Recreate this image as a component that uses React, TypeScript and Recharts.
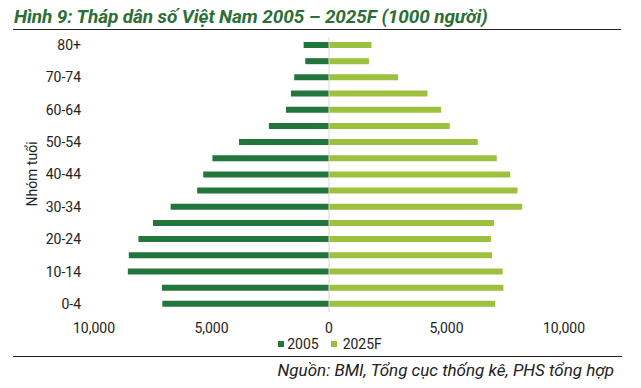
import { Bar, BarChart, ReferenceLine, XAxis, YAxis } from 'recharts'

const ageGroups = [
  '80+', '75-79', '70-74', '65-69', '60-64', '55-59', '50-54', '45-49', '40-44',
  '35-39', '30-34', '25-29', '20-24', '15-19', '10-14', '5-9', '0-4',
]
const pop2005 = [
  1080, 1010, 1480, 1620, 1830, 2560, 3830, 4960, 5350,
  5610, 6740, 7490, 8110, 8520, 8560, 7110, 7090,
]
const pop2025 = [
  1810, 1700, 2940, 4190, 4770, 5140, 6330, 7140, 7710,
  8020, 8220, 7020, 6890, 6940, 7390, 7420, 7070,
]
const xTicks = [-10000, -5000, 0, 5000, 10000]

const DARK = '#23763b'
const LIGHT = '#9dc13f'

const data = ageGroups.map((age, i) => ({
  age,
  y2005: -pop2005[i],
  y2025: pop2025[i],
}))

const fmt = (v: number) => Math.abs(v).toLocaleString('en-US')

export default function App() {
  return (
    <div
      style={{
        position: 'absolute',
        left: 0,
        top: 0,
        width: 641,
        height: 388,
        background: '#fff',
        fontFamily: 'Roboto, sans-serif',
        color: '#222',
      }}
    >
      <div
        style={{
          position: 'absolute',
          left: 14,
          top: 5,
          fontSize: 19,
          fontWeight: 700,
          fontStyle: 'italic',
          color: '#2b6e36',
          letterSpacing: -0.1,
          whiteSpace: 'nowrap',
        }}
      >
        Hình 9: Tháp dân số Việt Nam 2005 – 2025F (1000 người)
      </div>
      <div style={{ position: 'absolute', left: 13, top: 29, width: 608, height: 1, background: '#222' }} />

      <div style={{ position: 'absolute', left: 0, top: 0 }}>
        <BarChart
          width={641}
          height={340}
          data={data}
          layout="vertical"
          stackOffset="sign"
          margin={{ top: 37, right: 77, bottom: 0, left: 0 }}
        >
          <XAxis
            type="number"
            domain={[-10000, 10000]}
            ticks={xTicks}
            tickFormatter={fmt}
            height={28}
            axisLine={false}
            tickLine={false}
            tickSize={0}
            tickMargin={11}
            tick={{ fill: '#222', fontSize: 14 }}
          />
          <YAxis
            type="category"
            dataKey="age"
            width={94}
            interval={1}
            axisLine={false}
            tickLine={false}
            tickSize={0}
            tickMargin={13}
            tick={{ fill: '#222', fontSize: 14 }}
          />
          <ReferenceLine x={0} stroke="#d9d9d9" />
          <Bar dataKey="y2005" name="2005" stackId="a" fill={DARK} barSize={6} isAnimationActive={false} />
          <Bar dataKey="y2025" name="2025F" stackId="a" fill={LIGHT} barSize={6} isAnimationActive={false} />
        </BarChart>
      </div>

      <div
        style={{
          position: 'absolute',
          left: 32,
          top: 174,
          transform: 'translate(-50%, -50%) rotate(-90deg)',
          fontSize: 14,
          whiteSpace: 'nowrap',
        }}
      >
        Nhóm tuổi
      </div>

      <div
        style={{
          position: 'absolute',
          left: 0,
          top: 336,
          width: 660,
          display: 'flex',
          justifyContent: 'center',
          fontSize: 14,
          lineHeight: '16px',
        }}
      >
        <span style={{ display: 'flex', alignItems: 'center', marginRight: 12 }}>
          <span style={{ width: 6, height: 6, background: DARK, marginRight: 3 }} />
          2005
        </span>
        <span style={{ display: 'flex', alignItems: 'center' }}>
          <span style={{ width: 6, height: 6, background: LIGHT, marginRight: 6 }} />
          2025F
        </span>
      </div>

      <div style={{ position: 'absolute', left: 13, top: 356, width: 609, height: 1, background: '#222' }} />
      <div
        style={{
          position: 'absolute',
          right: 27,
          top: 360,
          fontSize: 17,
          fontStyle: 'italic',
          whiteSpace: 'nowrap',
        }}
      >
        Nguồn: BMI, Tổng cục thống kê, PHS tổng hợp
      </div>
    </div>
  )
}
